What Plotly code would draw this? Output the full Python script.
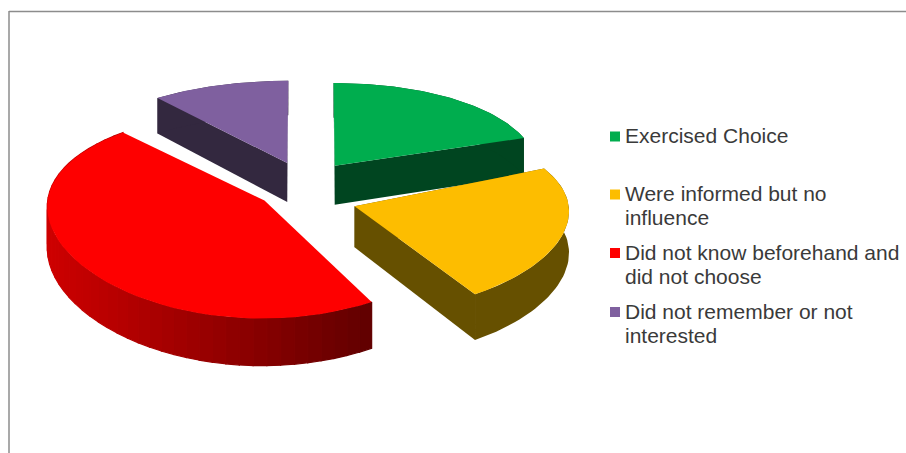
import math
import plotly.graph_objects as go

label_lines = [["Exercised Choice"], ["Were informed but no", "influence"],
               ["Did not know beforehand and", "did not choose"], ["Did not remember or not", "interested"]]
values = [20, 23, 46, 11]
top_colors = ["#00ad4e", "#fdbd00", "#fe0000", "#7f609f"]
wall_colors = ["#004520", "#665000", None, "#33283f"]
offsets_x = [0.116, 0.205, -0.21, -0.107]
offsets_y = [0.19, -0.22, -0.165, 0.22]
angle_nudge = [0, -7, -3.6, 0]
scale_x = [0.95, 0.985, 1, 1]
scale_y = [1, 0.9, 1, 1]

CX, CY, R, RK, PX, PY, H = 310, 184, 215, 98, 0.05, 0.13, 40


def project(X, Y, z=0.0):
    sx = 1 / (1 + PX * Y)
    sy = 1 / (1 + PY * Y)
    return CX + R * X * sx, CY - RK * Y * sy + z * H * sy


def poly(points, color, lw=0.0):
    xs = [p[0] for p in points] + [points[0][0]]
    ys = [p[1] for p in points] + [points[0][1]]
    return go.Scatter(x=xs, y=ys, mode="lines", fill="toself", fillcolor=color,
                      line=dict(color=color, width=lw), hoverinfo="skip", showlegend=False)


def red_shade(x):
    t = min(max((x - 50) / 323, 0), 1)
    return "rgb(%d,0,0)" % round(205 + (96 - 205) * t)


total = sum(values)
slices = []
start = 0.0
for i, v in enumerate(values):
    sweep = v / total * 2 * math.pi
    a0 = start + math.radians(angle_nudge[i])
    a1 = a0 + sweep
    start += sweep
    ox, oy = offsets_x[i], offsets_y[i]
    n = 48
    arc = [(ox + scale_x[i] * math.sin(a0 + (a1 - a0) * j / n),
            oy + scale_y[i] * math.cos(a0 + (a1 - a0) * j / n)) for j in range(n + 1)]
    slices.append(dict(i=i, apex=(ox, oy), arc=arc, depth=oy))

fig = go.Figure()
# back slices first
for sl in sorted(slices, key=lambda d: -d["depth"]):
    i, apex, arc = sl["i"], sl["apex"], sl["arc"]
    if wall_colors[i]:
        c = wall_colors[i]
        for edge in (arc[0], arc[-1]):
            fig.add_trace(poly([project(*apex), project(*edge), project(*edge, 1), project(*apex, 1)], c))
        fig.add_trace(poly([project(*p) for p in arc] + [project(*p, 1) for p in reversed(arc)], c))
    else:
        for a, b in zip(arc[:-1], arc[1:]):
            c = red_shade((project(*a)[0] + project(*b)[0]) / 2)
            fig.add_trace(poly([project(*a), project(*b), project(*b, 1), project(*a, 1)], c, 1.2))
    fig.add_trace(poly([project(*apex)] + [project(*p) for p in arc], top_colors[i]))

# legend, drawn as real marks and text so the symbol sits tight to the first line
legend_y = [136.5, 194.5, 253, 312]
line_gap = 24
fig.add_trace(go.Scatter(x=[615] * 4, y=legend_y, mode="markers",
                         marker=dict(symbol="square", size=10, color=top_colors, line=dict(width=0)),
                         hoverinfo="skip", showlegend=False))
for lines, ly in zip(label_lines, legend_y):
    for k, text in enumerate(lines):
        fig.add_annotation(x=623, y=ly - 1 + k * line_gap, xref="x", yref="y", text=text, showarrow=False,
                           xanchor="left", yanchor="middle",
                           font=dict(family="Liberation Sans", size=21, color="#3a3a3a"))

fig.add_shape(type="line", x0=9, y0=11.5, x1=906, y1=11.5, xref="x", yref="y", line=dict(color="#8c8c8c", width=1.5))
fig.add_shape(type="line", x0=9, y0=11, x1=9, y1=453, xref="x", yref="y", line=dict(color="#8c8c8c", width=1.5))

fig.update_layout(width=906, height=453, margin=dict(l=0, r=0, t=0, b=0), paper_bgcolor="white",
                  plot_bgcolor="white", showlegend=False,
                  xaxis=dict(range=[0, 906], visible=False, fixedrange=True),
                  yaxis=dict(range=[453, 0], visible=False, fixedrange=True))
fig.write_html("out.html", config=dict(displayModeBar=False),
               post_script="document.body.style.margin='0';document.body.style.overflow='hidden';")
